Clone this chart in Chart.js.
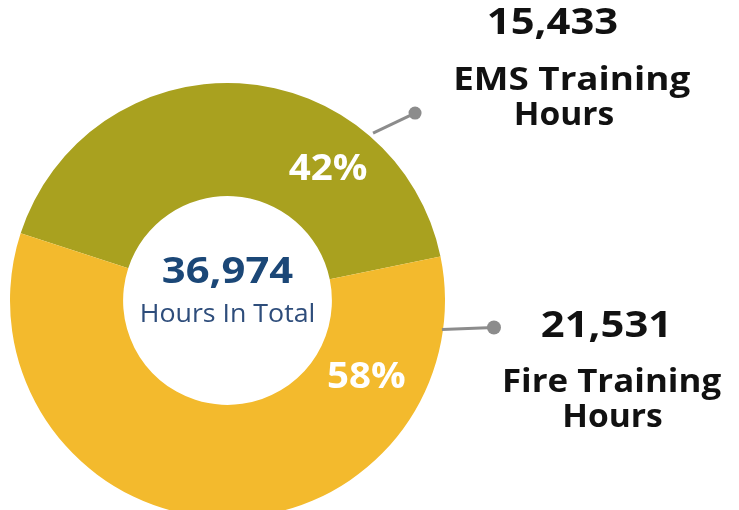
<!DOCTYPE html>
<html>
<head>
<meta charset="utf-8">
<script src="https://cdn.jsdelivr.net/npm/chart.js@4"></script>
<style>
  html, body { margin: 0; padding: 0; background: #fff; overflow: hidden; }
  #wrap { position: absolute; left: 0; top: 0; width: 739px; height: 530px; }
</style>
</head>
<body>
<div id="wrap"><canvas id="hours"></canvas></div>
<script>
const categories = ["EMS Training Hours", "Fire Training Hours"];
const hours = [15433, 21531];
const valueLabels = ["15,433", "21,531"];
const nameLines = [["EMS Training", "Hours"], ["Fire Training", "Hours"]];
const percentLabels = ["42%", "58%"];
const totalLabel = "36,974";
const totalCaption = "Hours In Total";
const colors = ["#A9A11F", "#F3BA2D"];

const FONT = '"Open Sans", "Noto Sans", sans-serif';

// where the in-ring percentages sit: angle (deg, canvas) and radius as share of outer radius
const pctSpots = [{ a: -53, r: 0.768 }, { a: 28.4, r: 0.726 }];
// leader lines: start on ring edge, end at dot
const leaders = [
  { a: -49, r: 1.02, dx: 42, dy: -20, dot: 6.5 },
  { a: 7.7, r: 0.995, dx: 52, dy: -2, dot: 7 }
];
// right hand labels (centre x, baselines, sideways stretch of first line)
const sideText = [
  { x: 552.5, num: 33.5, l1x: 571.7, l1: 90, l1s: 1.15, l2x: 564, l2: 125 },
  { x: 606.5, num: 336.5, l1x: 611.5, l1: 391.5, l1s: 1.09, l2x: 612.5, l2: 426.5 }
];

// the artwork's type runs a little wide, so stretch it sideways
function wideText(ctx, t, x, y, sx) {
  ctx.save();
  ctx.translate(x, y);
  ctx.scale(sx, 1);
  ctx.fillText(t, 0, 0);
  ctx.restore();
}

const annotate = {
  id: "annotate",
  afterDatasetsDraw(chart) {
    const ctx = chart.ctx;
    const arcs = chart.getDatasetMeta(0).data;
    const cx = arcs[0].x, cy = arcs[0].y, R = arcs[0].outerRadius;
    ctx.save();
    ctx.textAlign = "center";
    ctx.textBaseline = "alphabetic";

    // percentages
    ctx.fillStyle = "#ffffff";
    ctx.font = "bold 35px " + FONT;
    percentLabels.forEach((t, i) => {
      const s = pctSpots[i];
      const a = s.a * Math.PI / 180;
      wideText(ctx, t, cx + Math.cos(a) * R * s.r, cy + Math.sin(a) * R * s.r + 12.5, 1.1);
    });

    // centre text
    ctx.fillStyle = "#1B4777";
    ctx.font = "bold 36px " + FONT;
    wideText(ctx, totalLabel, cx, cy - 18, 1.16);
    ctx.fillStyle = "#2E4D7B";
    ctx.font = "25px " + FONT;
    wideText(ctx, totalCaption, cx, cy + 21, 1.07);

    // leader lines
    leaders.forEach(l => {
      const a = l.a * Math.PI / 180;
      const x0 = cx + Math.cos(a) * R * l.r, y0 = cy + Math.sin(a) * R * l.r;
      ctx.strokeStyle = "#8C8C8C";
      ctx.lineWidth = 3;
      ctx.beginPath();
      ctx.moveTo(x0, y0);
      ctx.lineTo(x0 + l.dx, y0 + l.dy);
      ctx.stroke();
      ctx.fillStyle = "#8C8C8C";
      ctx.beginPath();
      ctx.arc(x0 + l.dx, y0 + l.dy, l.dot, 0, Math.PI * 2);
      ctx.fill();
    });

    // side labels
    ctx.fillStyle = "#111111";
    sideText.forEach((p, i) => {
      ctx.font = "bold 36px " + FONT;
      wideText(ctx, valueLabels[i], p.x, p.num, 1.16);
      ctx.font = "bold 32px " + FONT;
      wideText(ctx, nameLines[i][0], p.l1x, p.l1, p.l1s);
      wideText(ctx, nameLines[i][1], p.l2x, p.l2, 1.05);
    });
    ctx.restore();
  }
};

async function draw() {
  try {
    await document.fonts.load('bold 36px "Open Sans"');
    await document.fonts.load('25px "Open Sans"');
  } catch (e) {
    console.error(e);
  }
  const el = document.getElementById("hours");
  new Chart(el, {
    type: "doughnut",
    data: {
      labels: categories,
      datasets: [{
        data: hours,
        backgroundColor: colors,
        borderWidth: 0
      }]
    },
    options: {
      responsive: true,
      maintainAspectRatio: false,
      animation: false,
      rotation: -72,
      cutout: "48%",
      layout: { padding: { left: 10, right: 294, top: 83, bottom: 12 } },
      plugins: {
        legend: { display: false },
        tooltip: { enabled: false }
      }
    },
    plugins: [annotate]
  });
}
draw();
</script>
</body>
</html>
